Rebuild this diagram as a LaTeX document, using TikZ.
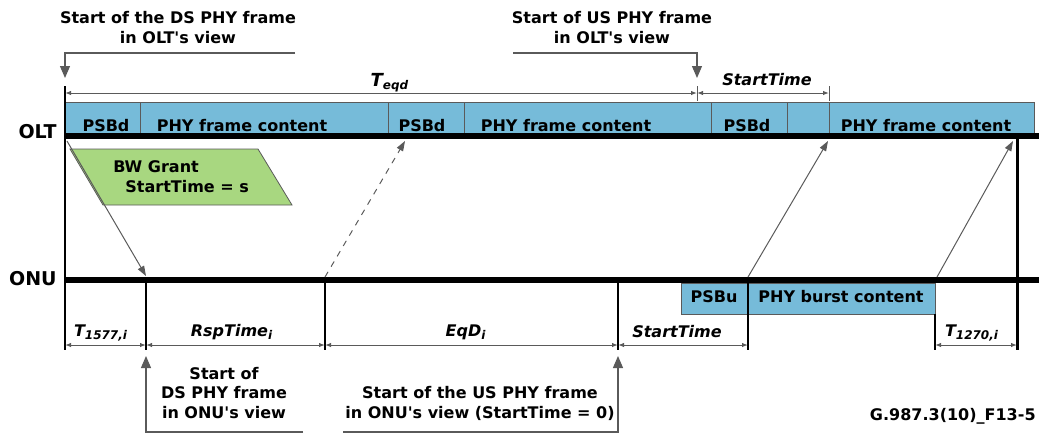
\documentclass[tikz,border=0pt]{standalone}
\usepackage{fontspec}
\setmainfont{DejaVu Sans}[Ligatures=TeXOff]
\usetikzlibrary{arrows.meta}

\definecolor{frameblue}{RGB}{118,187,217}
\definecolor{grantgreen}{RGB}{168,215,128}
\definecolor{linegray}{RGB}{90,90,90}

\tikzset{
  lbl/.style={font=\fontsize{8}{9.6}\selectfont\bfseries,inner sep=0pt},
  dimlbl/.style={font=\fontsize{8}{9.6}\selectfont\bfseries\itshape,inner sep=0pt,anchor=base},
  sidelbl/.style={font=\fontsize{9.5}{11}\selectfont\bfseries,inner sep=0pt,anchor=east},
  dim/.style={linegray,line width=0.5pt,{Latex[length=3pt,width=2.2pt]}-{Latex[length=3pt,width=2.2pt]}},
  marker/.style={linegray,line width=0.6pt,-{Triangle[length=6pt,width=5pt]}},
  signal/.style={linegray,line width=0.5pt,-{Triangle[length=5pt,width=3.5pt]}},
  timeline/.style={line width=3pt},
  vtick/.style={line width=0.8pt},
}

\begin{document}
\begin{tikzpicture}[x=0.5pt,y=-0.5pt]

\useasboundingbox (0,0) rectangle (1039,434);

% OLT frames
\draw[linegray,line width=0.4pt,fill=frameblue] (65,102) rectangle (1034,134);
\foreach \x in {140,388,464,711,787,829}
	\draw[linegray,line width=0.4pt] (\x,102) -- (\x,134);
\foreach \x/\t [count=\i] in {106/PSBd,242/PHY frame content,422/PSBd,566/PHY frame content,747/PSBd,926/PHY frame content}
	\node[lbl,anchor=base] (frame\i) at (\x,131) {\t};

% ONU burst
\draw[linegray,line width=0.4pt,fill=frameblue] (681,283) rectangle (935,314);
\node[lbl,anchor=base] (psbu) at (714,302) {PSBu};
\node[lbl,anchor=base] (burst) at (841,302) {PHY burst content};

% time lines
\draw[timeline] (65,136) -- (1039,136);
\draw[timeline] (65,280) -- (1039,280);
\node[sidelbl] (olt) at (57,132) {OLT};
\node[sidelbl] (onu) at (57,279) {ONU};

% vertical markers
\draw[line width=1pt] (65,86) -- (65,350);
\foreach \x in {146,325,618,748}
	\draw[vtick] (\x,280) -- (\x,350);
\draw[vtick] (935,314) -- (935,350);
\draw[line width=1.5pt] (1017,136) -- (1017,350);
\foreach \x in {697,829}
	\draw[linegray,line width=0.5pt] (\x,86) -- (\x,101);

% durations
\draw[dim] (65,93) -- (697,93);
\draw[dim] (697,93) -- (829,93);
\node[dimlbl] (teqd) at (390,86) {{\fontsize{9}{10}\selectfont T}\textsubscript{eqd}};
\node[dimlbl] (stolt) at (767,85) {StartTime};
\foreach \a/\b in {65/146,146/325,325/618,618/748,935/1017}
	\draw[dim] (\a,345) -- (\b,345);
\node[dimlbl] (t1577) at (101,336) {T\textsubscript{1577,i}};
\node[dimlbl] (rsp) at (232,336) {RspTime\textsubscript{i}};
\node[dimlbl] (eqd) at (466,336) {EqD\textsubscript{i}};
\node[dimlbl] (stonu) at (677,337) {StartTime};
\node[dimlbl] (t1270) at (972,336) {T\textsubscript{1270,i}};

% bandwidth grant
\draw[linegray,line width=0.4pt,fill=grantgreen] (70,149) -- (258,149) -- (292,205) -- (103,205) -- cycle;
\node[lbl,anchor=base west] (bw) at (113,172) {BW Grant};
\node[lbl,anchor=base west] (bwst) at (125,192) {StartTime = s};

% signals
\coordinate (grantOlt) at (67,141);
\coordinate (grantOnu) at (146,276);
\coordinate (eqOnu) at (325,277);
\coordinate (eqOlt) at (405,141);
\coordinate (burstOnu) at (748,277);
\coordinate (burstOlt) at (828,141);
\coordinate (endOnu) at (937,277);
\coordinate (endOlt) at (1013,141);
\draw[signal] (grantOlt) -- (grantOnu);
\draw[signal,dashed] (eqOnu) -- (eqOlt);
\draw[signal] (burstOnu) -- (burstOlt);
\draw[signal] (endOnu) -- (endOlt);

% frame starts
\node[lbl,align=center,anchor=base] (dsolt) at (178,43) {Start of the DS PHY frame\\in OLT's view};
\node[lbl,align=center,anchor=base] (usolt) at (612,43) {Start of US PHY frame\\in OLT's view};
\node[lbl,align=center,anchor=base] (dsonu) at (224,418) {Start of\\DS PHY frame\\in ONU's view};
\node[lbl,align=center,anchor=base] (usonu) at (480,418) {Start of the US PHY frame\\in ONU's view (StartTime = 0)};
\draw[marker] (295,53) -- (65,53) -- (65,78);
\draw[marker] (513,53) -- (697,53) -- (697,78);
\draw[marker] (303,432) -- (146,432) -- (146,356);
\draw[marker] (343,432) -- (618,432) -- (618,356);

\node[lbl,anchor=base east] (figid) at (1036,420) {G.987.3(10)\_F13-5};

\end{tikzpicture}
\end{document}
